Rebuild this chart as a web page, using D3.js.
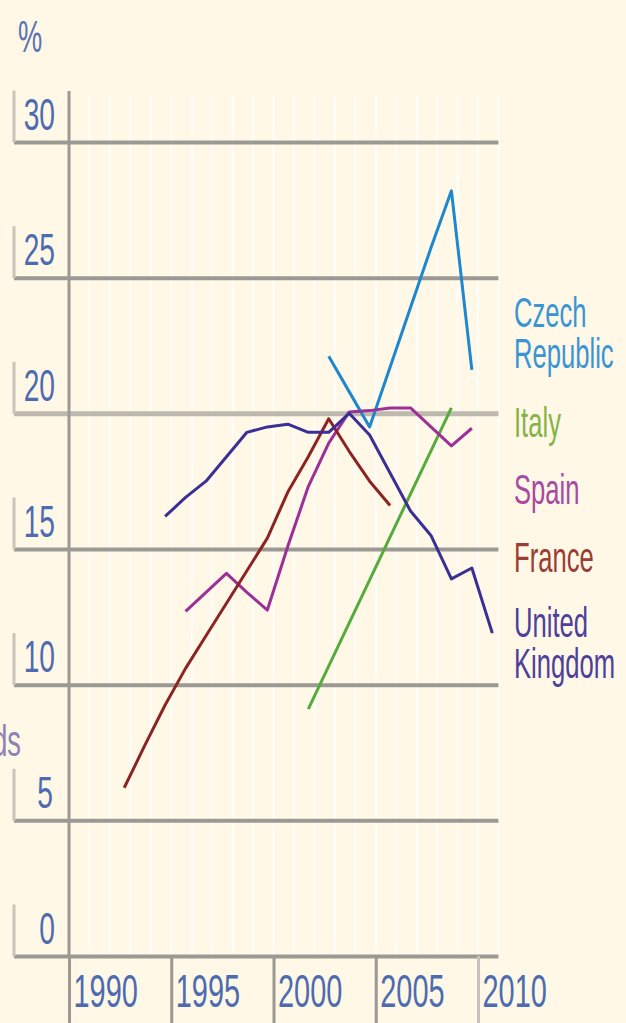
<!DOCTYPE html>
<html>
<head>
<meta charset="utf-8">
<script src="https://cdn.jsdelivr.net/npm/d3@7"></script>
<style>
  body { margin: 0; background: #fff8e6; }
  svg { display: block; }
  text { font-family: "Liberation Sans", Arial, sans-serif; }
</style>
</head>
<body>
<div class="chart"></div>
<script>
// values, % per year
var yTicks = [0, 5, 10, 15, 20, 25, 30];
var xTicks = [1990, 1995, 2000, 2005, 2010];

var czechYears = [2002, 2003, 2004, 2005, 2006, 2007, 2008, 2009];
var czechValues = [22.1, 20.8, 19.5, 21.7, 23.9, 26.1, 28.2, 21.6];

var italyYears = [2001, 2008];
var italyValues = [9.1, 20.2];

var spainYears = [1995, 1996, 1997, 1998, 1999, 2000, 2001, 2002, 2003, 2004, 2005, 2006, 2007, 2008, 2009];
var spainValues = [12.7, 13.4, 14.1, 13.4, 12.75, 15.1, 17.3, 18.9, 20.05, 20.1, 20.2, 20.2, 19.5, 18.8, 19.45];

var franceYears = [1992, 1993, 1994, 1995, 1996, 1997, 1998, 1999, 2000, 2001, 2002, 2003, 2004, 2005];
var franceValues = [6.2, 7.75, 9.25, 10.6, 11.8, 13.0, 14.2, 15.4, 17.1, 18.4, 19.8, 18.6, 17.5, 16.6];

var ukYears = [1994, 1995, 1996, 1997, 1998, 1999, 2000, 2001, 2002, 2003, 2004, 2005, 2006, 2007, 2008, 2009, 2010];
var ukValues = [16.2, 16.9, 17.5, 18.4, 19.3, 19.5, 19.6, 19.3, 19.3, 20.0, 19.2, 17.8, 16.4, 15.5, 13.9, 14.3, 11.9];

var series = [
  { name: ['Czech', 'Republic'], years: czechYears, values: czechValues, color: '#1d87cf', text: '#3a95d4', labelY: 327 },
  { name: ['Italy'], years: italyYears, values: italyValues, color: '#55ac3e', text: '#86b24a', labelY: 437 },
  { name: ['Spain'], years: spainYears, values: spainValues, color: '#9d3098', text: '#a94aa2', labelY: 504 },
  { name: ['France'], years: franceYears, values: franceValues, color: '#8c2424', text: '#9a3d35', labelY: 572 },
  { name: ['United', 'Kingdom'], years: ukYears, values: ukValues, color: '#3a2f97', text: '#4d3f9c', labelY: 637 }
];

var width = 626;
var height = 1023;
var plotTop = 91;
var gridLeft = 14;
// the original puts each yearly point ~0.7 yr right of its tick
var pointOffset = 0.7;

var svg = d3.select('.chart')
  .append('svg')
    .attr('width', width)
    .attr('height', height);

var xScale = d3.scaleLinear()
  .domain([1990, 2010])
  .range([69, 478]);

var yScale = d3.scaleLinear()
  .domain([0, 30])
  .range([956, 142]);

var plotRight = xScale(2011);

// pale vertical stripes, one per year
svg.append('g')
  .selectAll('line')
  .data(d3.range(1991, 2012))
  .enter()
  .append('line')
    .attr('x1', d => xScale(d))
    .attr('x2', d => xScale(d))
    .attr('y1', plotTop + 4)
    .attr('y2', yScale(0))
    .style('stroke', '#ffffff')
    .style('stroke-width', 2)
    .style('opacity', 0.85);

// horizontal grid with the little brackets on the left
var yAxis = svg.append('g')
  .attr('transform', `translate(${gridLeft},0)`)
  .call(d3.axisRight(yScale)
    .tickValues(yTicks)
    .tickSize(plotRight - gridLeft)
    .tickFormat(d3.format('d')));

yAxis.select('.domain').remove();
yAxis.selectAll('.tick line')
  .style('stroke', d => d == 20 ? '#bdb9ae' : '#9b9994')
  .style('stroke-width', d => d == 20 ? 5 : 4);
yAxis.selectAll('.tick')
  .append('line')
    .attr('y1', -52)
    .attr('y2', 0)
    .style('stroke', '#c9c5b9')
    .style('stroke-width', 3);
yAxis.selectAll('.tick text')
  .attr('x', 0)
  .attr('dy', 0)
  .attr('text-anchor', 'end')
  .attr('transform', d => `translate(${d == 5 ? 39 : 41},-13) scale(0.64,1)`)
  .style('font-size', '44px')
  .style('fill', '#4d6bb0');

// left axis line
svg.append('line')
  .attr('x1', xScale(1990))
  .attr('x2', xScale(1990))
  .attr('y1', plotTop)
  .attr('y2', yScale(0))
  .style('stroke', '#9b9994')
  .style('stroke-width', 3);

// bottom axis: long ticks with years to their right
var xAxis = svg.append('g')
  .attr('transform', `translate(0,${yScale(0)})`)
  .call(d3.axisBottom(xScale)
    .tickValues(xTicks)
    .tickSize(height - yScale(0))
    .tickSizeOuter(0)
    .tickFormat(d3.format('d')));

xAxis.select('.domain').remove();
xAxis.selectAll('.tick line')
  .style('stroke', d => d == 2010 ? '#c6c2b8' : '#9b9994')
  .style('stroke-width', 3);
xAxis.selectAll('.tick text')
  .attr('y', 0)
  .attr('dy', 0)
  .attr('text-anchor', 'start')
  .attr('transform', 'translate(4,51) scale(0.615,1)')
  .style('font-size', '47px')
  .style('fill', '#4d6bb0');

var line = d3.line()
  .x(d => xScale(d[0] + pointOffset))
  .y(d => yScale(d[1]));

svg.append('g')
  .selectAll('path')
  .data(series)
  .enter()
  .append('path')
    .attr('d', s => line(d3.zip(s.years, s.values)))
    .style('stroke', s => s.color)
    .style('stroke-width', 3)
    .style('stroke-linejoin', 'round')
    .style('fill', 'none');

// labels on the right, one text per line
var labels = svg.append('g')
  .selectAll('g')
  .data(series)
  .enter()
  .append('g')
    .style('fill', s => s.text);

labels.selectAll('text')
  .data(s => s.name.map((n, i) => ({ n: n, y: s.labelY + i * 41 })))
  .enter()
  .append('text')
    .attr('transform', d => `translate(514,${d.y}) scale(0.61,1)`)
    .style('font-size', '42px')
    .text(d => d.n);

svg.append('text')
  .attr('transform', 'translate(18,52) scale(0.62,1)')
  .style('font-size', '44px')
  .style('fill', '#5b73b4')
  .text('%');

svg.append('text')
  .attr('transform', 'translate(21,756) scale(0.62,1)')
  .attr('text-anchor', 'end')
  .style('font-size', '44px')
  .style('fill', '#8d82b3')
  .text('ds');
</script>
</body>
</html>
